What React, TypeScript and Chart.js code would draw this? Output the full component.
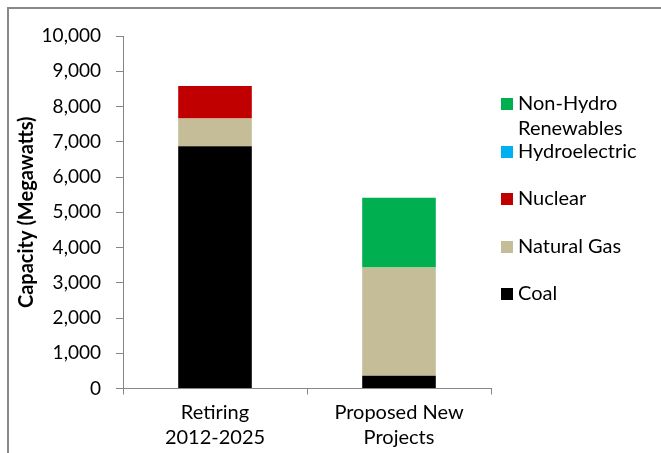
import React, { useEffect, useRef } from "react";
import { Chart, registerables } from "chart.js";

Chart.register(...registerables);

const categories: string[][] = [["Retiring", "2012-2025"], ["Proposed New", "Projects"]];
const seriesNames = ["Coal", "Natural Gas", "Nuclear", "Hydroelectric", "Non-Hydro Renewables"];
const coal = [6870, 360];
const naturalGas = [790, 3075];
const nuclear = [920, 0];
const hydroelectric = [0, 0];
const nonHydroRenewables = [0, 1975];
const seriesColors = ["#000000", "#C4BD97", "#C00000", "#00B0F0", "#00B050"];
const yTicks = [0, 1000, 2000, 3000, 4000, 5000, 6000, 7000, 8000, 9000, 10000];

const FONT = "Lato, 'DejaVu Sans', sans-serif";

const framePlugin = {
  id: "frame",
  beforeDraw(chart: any) {
    const ctx = chart.ctx;
    ctx.save();
    ctx.fillStyle = "#ffffff";
    ctx.fillRect(0, 0, chart.width, chart.height);
    ctx.strokeStyle = "#888888";
    ctx.lineWidth = 2;
    ctx.strokeRect(8, 8, chart.width + 20, chart.height + 20);
    ctx.restore();
  },
};

const legendPlugin = {
  id: "customLegend",
  afterDraw(chart: any) {
    const ctx = chart.ctx;
    const datasets = chart.data.datasets;
    const order = datasets.map((_: any, i: number) => i).reverse();
    const rowY = [104, 152, 199, 247, 294];
    const boxX = 501;
    const textX = 518;
    const maxW = 138;
    ctx.save();
    ctx.font = `20px ${FONT}`;
    ctx.textBaseline = "middle";
    ctx.textAlign = "left";
    order.forEach((di: number, k: number) => {
      const ds = datasets[di];
      const y = rowY[k];
      ctx.fillStyle = ds.backgroundColor;
      ctx.fillRect(boxX, y - 6, 12, 12);
      const words = String(ds.label).split(" ");
      const lines: string[] = [];
      let cur = "";
      words.forEach((w) => {
        const t = cur ? cur + " " + w : w;
        if (cur && ctx.measureText(t).width > maxW) {
          lines.push(cur);
          cur = w;
        } else cur = t;
      });
      if (cur) lines.push(cur);
      ctx.fillStyle = "#000000";
      lines.forEach((ln, li) => ctx.fillText(ln, textX, y + li * 25));
    });
    ctx.restore();
  },
};

export default function App() {
  const ref = useRef<HTMLCanvasElement | null>(null);
  useEffect(() => {
    if (!ref.current) return;
    const values = [coal, naturalGas, nuclear, hydroelectric, nonHydroRenewables];
    const chart = new Chart(ref.current, {
      type: "bar",
      data: {
        labels: categories as any,
        datasets: seriesNames.map((name, i) => ({
          label: name,
          data: values[i],
          backgroundColor: seriesColors[i],
          borderWidth: 0,
          barPercentage: 0.4,
          categoryPercentage: 1,
        })),
      },
      options: {
        responsive: false,
        animation: false,
        devicePixelRatio: 1,
        layout: { padding: { left: 0, top: 36, right: 170, bottom: 0 } },
        plugins: {
          legend: { display: false },
          tooltip: { enabled: false },
          title: { display: false },
        },
        scales: {
          x: {
            stacked: true,
            afterFit: (s: any) => {
              s.height = 64.5;
            },
            grid: {
              display: true,
              drawOnChartArea: false,
              drawTicks: true,
              tickLength: 6,
              color: "#868686",
              offset: true,
            },
            border: { display: true, color: "#868686", width: 1 },
            ticks: {
              color: "#000000",
              padding: 6,
              maxRotation: 0,
              autoSkip: false,
              font: { family: FONT, size: 20, lineHeight: 25 / 20 },
            },
          },
          y: {
            stacked: true,
            min: 0,
            max: 10000,
            afterFit: (s: any) => {
              s.width = 123;
            },
            afterBuildTicks: (s: any) => {
              s.ticks = yTicks.map((v) => ({ value: v }));
            },
            grid: {
              display: true,
              drawOnChartArea: false,
              drawTicks: true,
              tickLength: 7,
              color: "#868686",
            },
            border: { display: true, color: "#868686", width: 1 },
            ticks: {
              color: "#000000",
              padding: 15,
              font: { family: FONT, size: 19 },
              callback: (v: any) => Number(v).toLocaleString("en-US"),
            },
            title: {
              display: true,
              text: "Capacity (Megawatts)",
              color: "#000000",
              padding: { top: 15, bottom: 0 },
              font: { family: FONT, size: 20, weight: "bold" },
            },
          },
        },
      },
      plugins: [framePlugin, legendPlugin],
    });
    return () => chart.destroy();
  }, []);
  return (
    <div style={{ position: "absolute", left: 0, top: 0, width: 661, height: 453, overflow: "hidden" }}>
      <canvas ref={ref} width={661} height={453} style={{ display: "block" }} />
    </div>
  );
}
